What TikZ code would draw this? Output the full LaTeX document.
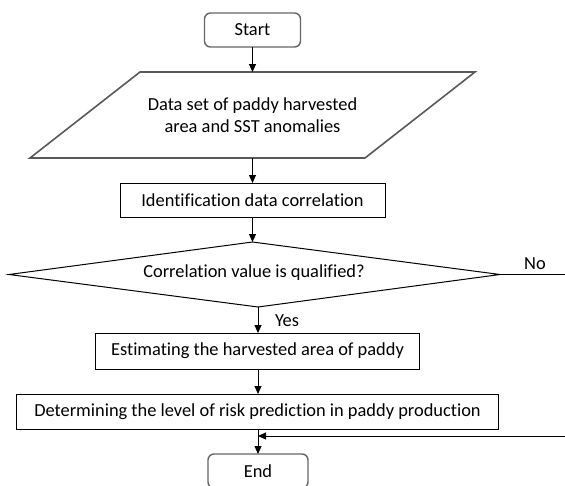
\documentclass[tikz,border=0pt]{standalone}
\usepackage{fontspec}
\setmainfont{Carlito}[Ligatures=NoCommon]
\usetikzlibrary{arrows.meta,calc}

\tikzset{
  every node/.style={font=\fontsize{18.4}{21.5}\selectfont, text=black, inner sep=0pt, outer sep=0pt},
  flow/.style={line width=1pt, draw=black},
  arr/.style={flow, -{Triangle[length=8pt,width=7pt]}},
  terminal/.style={draw=black!60, line width=1.4pt, rounded corners=6pt, fill=white},
  process/.style={draw=black, line width=1pt, fill=white},
  outline/.style={draw=black, line width=1pt},
  iobox/.style={draw=black!65, line width=1.6pt}
}

\begin{document}
\begin{tikzpicture}[x=1pt,y=-1pt]
  \clip (0,0) rectangle (565,485);
  \fill[white] (0,0) rectangle (565,485);

  % start terminal
  \node[terminal, minimum width=96pt, minimum height=34pt] (start) at (252.5,30) {Start};

  % input parallelogram
  \node[minimum width=335pt, minimum height=86pt, align=center] (data) at (252.5,115)
    {Data set of paddy harvested\\area and SST anomalies};
  \draw[iobox] ($(data.north west)+(55,0)$) -- ($(data.north east)+(55,0)$)
    -- ($(data.south east)+(-55,0)$) -- ($(data.south west)+(-55,0)$) -- cycle;

  \node[process, minimum width=265pt, minimum height=34pt] (ident) at (252.5,200)
    {Identification data correlation};

  % decision diamond
  \coordinate (decW) at (9,274.5);
  \coordinate (decN) at (252.5,242);
  \coordinate (decE) at (500,274.5);
  \coordinate (decS) at (258,307);
  \draw[outline] (decW) -- (decN) -- (decE) -- (decS) -- cycle;
  \node (dec) at (254,273) {Correlation value is qualified?};

  \node[process, minimum width=324pt, minimum height=36pt] (est) at (257.5,351)
    {Estimating the harvested area of paddy};

  \node[process, minimum width=482pt, minimum height=35pt] (det) at (257.5,411.5)
    {Determining the level of risk prediction in paddy production};

  \node[terminal, minimum width=100pt, minimum height=34pt] (end) at (258,471) {End};

  % free ends at the right border
  \coordinate (noR) at (565,274.5);
  \coordinate (fbR) at (565,436);

  % connectors
  \draw[arr] (start.south) -- (start.south |- data.north);
  \draw[arr] (data.south) -- (data.south |- ident.north);
  \draw[arr] (ident.south) -- (decN);
  \draw[arr] (decS) -- (decS |- est.north);
  \draw[arr] (est.south -| decS) -- (decS |- det.north);
  \draw[arr] (det.south -| decS) -- (decS |- end.north);
  \draw[flow] (decE) -- (noR);
  \draw[arr] (fbR) -- (decS |- fbR);

  % branch labels
  \node (nolab) at (535,264) {No};
  \node (yeslab) at (287,321) {Yes};
\end{tikzpicture}
\end{document}
